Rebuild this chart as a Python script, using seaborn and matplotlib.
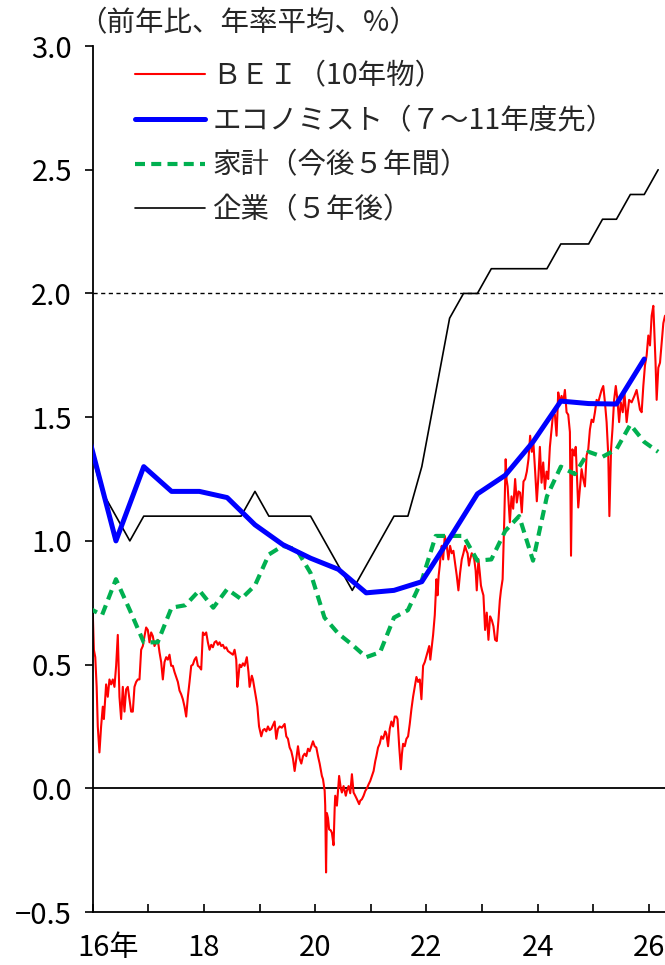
import matplotlib
matplotlib.use("Agg")
import matplotlib.pyplot as plt
import numpy as np
import pandas as pd
import seaborn as sns
from matplotlib.transforms import ScaledTranslation

# ---------------------------------------------------------------- data
# Survey months (quarterly: Mar/Jun/Sep/Dec, from Dec-2015 to Mar-2026)
quarter_months = pd.period_range("2015-12", "2026-03", freq="3M")
# Semi-annual economist survey months (Jun/Dec, from Dec-2015 to Dec-2025)
semi_months = pd.period_range("2015-12", "2025-12", freq="6M")

# 企業（５年後） — quarterly
firm_vals = [1.4,
             1.2, 1.1, 1.0, 1.1,
             1.1, 1.1, 1.1, 1.1,
             1.1, 1.1, 1.1, 1.2,
             1.1, 1.1, 1.1, 1.1,
             1.0, 0.9, 0.8, 0.9,
             1.0, 1.1, 1.1, 1.3,
             1.6, 1.9, 2.0, 2.0,
             2.1, 2.1, 2.1, 2.1,
             2.1, 2.2, 2.2, 2.2,
             2.3, 2.3, 2.4, 2.4,
             2.5]

# 家計（今後５年間） — quarterly
household_vals = [0.73,
                  0.70, 0.845, 0.72, 0.59,
                  0.59, 0.73, 0.74, 0.80,
                  0.73, 0.805, 0.765, 0.82,
                  0.945, 0.98, 0.965, 0.87,
                  0.69, 0.625, 0.58, 0.53,
                  0.55, 0.69, 0.72, 0.84,
                  1.02, 1.02, 1.02, 0.92,
                  0.925, 1.04, 1.10, 0.92,
                  1.18, 1.30, 1.27, 1.36,
                  1.34, 1.37, 1.47, 1.40,
                  1.36]

# エコノミスト（７～11年度先） — semi-annual
economist_vals = [1.43,
                  1.00, 1.30, 1.20, 1.20, 1.175, 1.065, 0.985, 0.93,
                  0.885, 0.79, 0.80, 0.835, 1.01, 1.19, 1.265, 1.40,
                  1.565, 1.555, 1.553, 1.735]

# ＢＥＩ（10年物） — market series (decimal year, %)
bei_t = [2016.00, 2016.02, 2016.045, 2016.07, 2016.09, 2016.12, 2016.15, 2016.18, 2016.20, 2016.24,
         2016.27, 2016.30, 2016.33, 2016.36, 2016.39, 2016.42, 2016.45, 2016.48, 2016.51, 2016.54,
         2016.57, 2016.60, 2016.63, 2016.66, 2016.69, 2016.72, 2016.75, 2016.78, 2016.81, 2016.84,
         2016.87, 2016.90, 2016.93, 2016.96, 2016.99,
         2017.02, 2017.05, 2017.08, 2017.11, 2017.14, 2017.17, 2017.20, 2017.23, 2017.26, 2017.29,
         2017.32, 2017.35, 2017.38, 2017.41, 2017.44, 2017.47, 2017.50, 2017.53, 2017.56, 2017.59,
         2017.62, 2017.65, 2017.68, 2017.71, 2017.74, 2017.77, 2017.80, 2017.83, 2017.86, 2017.89,
         2017.92, 2017.95, 2017.98,
         2018.01, 2018.04, 2018.07, 2018.10, 2018.13, 2018.16, 2018.19, 2018.22, 2018.25, 2018.28,
         2018.31, 2018.34, 2018.37, 2018.40, 2018.43, 2018.46, 2018.49, 2018.52, 2018.55, 2018.58,
         2018.60, 2018.62, 2018.64, 2018.67, 2018.70, 2018.73, 2018.77, 2018.80, 2018.82, 2018.86,
         2018.88, 2018.91, 2018.94, 2018.96, 2018.99,
         2019.03, 2019.06, 2019.09, 2019.12, 2019.15, 2019.18, 2019.21, 2019.24, 2019.27, 2019.30,
         2019.33, 2019.36, 2019.40, 2019.45, 2019.48, 2019.51, 2019.54, 2019.57, 2019.60, 2019.63,
         2019.66, 2019.69, 2019.72, 2019.75, 2019.78, 2019.81, 2019.84, 2019.87, 2019.90, 2019.93,
         2019.96, 2019.99,
         2020.02, 2020.05, 2020.08, 2020.12, 2020.14, 2020.17, 2020.18, 2020.195, 2020.21, 2020.23,
         2020.25, 2020.28, 2020.30, 2020.33, 2020.35, 2020.36, 2020.39, 2020.41, 2020.43, 2020.46,
         2020.48, 2020.51, 2020.55, 2020.57, 2020.60, 2020.63, 2020.66, 2020.69, 2020.72, 2020.75,
         2020.79, 2020.81, 2020.84, 2020.87, 2020.90, 2020.93, 2020.96, 2020.99,
         2021.02, 2021.05, 2021.08, 2021.10, 2021.13, 2021.16, 2021.19, 2021.22, 2021.26, 2021.28,
         2021.31, 2021.34, 2021.37, 2021.40, 2021.43, 2021.46, 2021.48, 2021.51, 2021.54, 2021.56,
         2021.58, 2021.61, 2021.64, 2021.67, 2021.70, 2021.73, 2021.76, 2021.79, 2021.82, 2021.85,
         2021.88, 2021.91, 2021.94, 2021.97,
         2022.00, 2022.03, 2022.05, 2022.07, 2022.09, 2022.12, 2022.15, 2022.18, 2022.20, 2022.22,
         2022.24, 2022.26, 2022.275, 2022.30, 2022.33, 2022.365, 2022.395, 2022.425, 2022.455, 2022.485,
         2022.515, 2022.545, 2022.575, 2022.605, 2022.635, 2022.665, 2022.695, 2022.72, 2022.74, 2022.765,
         2022.785, 2022.815, 2022.84, 2022.86, 2022.885, 2022.905, 2022.935, 2022.96, 2022.98,
         2023.00, 2023.025, 2023.055, 2023.085, 2023.115, 2023.145, 2023.175, 2023.205, 2023.235, 2023.265,
         2023.295, 2023.32, 2023.34, 2023.37, 2023.40, 2023.425, 2023.44, 2023.46, 2023.48, 2023.50,
         2023.53, 2023.56, 2023.595, 2023.625, 2023.655, 2023.685, 2023.715, 2023.745, 2023.775, 2023.805,
         2023.835, 2023.865, 2023.895, 2023.925, 2023.955, 2023.985,
         2024.015, 2024.04, 2024.07, 2024.10, 2024.13, 2024.16, 2024.19, 2024.22, 2024.25, 2024.28,
         2024.31, 2024.34, 2024.37, 2024.40, 2024.43, 2024.46, 2024.49, 2024.52, 2024.55, 2024.58,
         2024.60, 2024.625, 2024.66, 2024.685, 2024.715, 2024.73, 2024.76, 2024.79, 2024.82, 2024.85,
         2024.88, 2024.91, 2024.94, 2024.97,
         2025.00, 2025.03, 2025.06, 2025.09, 2025.12, 2025.15, 2025.18, 2025.21, 2025.24, 2025.27,
         2025.29, 2025.32, 2025.345, 2025.375, 2025.405, 2025.435, 2025.465, 2025.495, 2025.53, 2025.56,
         2025.60, 2025.645, 2025.69, 2025.74, 2025.78, 2025.81, 2025.84, 2025.87, 2025.90, 2025.93,
         2025.96, 2025.99,
         2026.02, 2026.05, 2026.08, 2026.10, 2026.12, 2026.14, 2026.17, 2026.20, 2026.23, 2026.26,
         2026.29]
bei_v = [0.71, 0.56, 0.53, 0.41, 0.25, 0.145, 0.25, 0.33, 0.28, 0.42,
         0.37, 0.44, 0.42, 0.44, 0.41, 0.495, 0.62, 0.37, 0.28, 0.41,
         0.31, 0.40, 0.41, 0.36, 0.31, 0.31, 0.41, 0.43, 0.44, 0.44,
         0.56, 0.575, 0.615, 0.65, 0.64,
         0.59, 0.63, 0.615, 0.575, 0.59, 0.60, 0.55, 0.51, 0.44, 0.51,
         0.53, 0.52, 0.54, 0.495, 0.495, 0.47, 0.45, 0.43, 0.395, 0.38,
         0.36, 0.33, 0.29, 0.37, 0.43, 0.495, 0.50, 0.52, 0.53, 0.495,
         0.49, 0.48, 0.63,
         0.62, 0.63, 0.59, 0.56, 0.58, 0.57, 0.59, 0.595, 0.58, 0.59,
         0.575, 0.58, 0.565, 0.57, 0.555, 0.55, 0.545, 0.54, 0.56, 0.52,
         0.41, 0.45, 0.50, 0.49, 0.505, 0.495, 0.53, 0.47, 0.41, 0.455,
         0.44, 0.40, 0.36, 0.33, 0.25,
         0.21, 0.235, 0.24, 0.23, 0.25, 0.235, 0.24, 0.255, 0.27, 0.20,
         0.24, 0.25, 0.245, 0.26, 0.21, 0.20, 0.165, 0.15, 0.12, 0.07,
         0.12, 0.17, 0.12, 0.10, 0.13, 0.14, 0.13, 0.16, 0.15, 0.17,
         0.19, 0.17,
         0.165, 0.13, 0.10, 0.05, 0.037, -0.01, -0.07, -0.34, -0.10, -0.12,
         -0.166, -0.17, -0.18, -0.23, -0.08, -0.03, -0.07, -0.01, 0.05, 0.0,
         -0.017, 0.009, -0.03, -0.01, 0.009, -0.02, 0.057, -0.017, -0.03, -0.044,
         -0.064, -0.05, -0.044, -0.03, -0.011, 0.0, 0.016, 0.03,
         0.05, 0.07, 0.11, 0.13, 0.165, 0.18, 0.21, 0.20, 0.23, 0.22,
         0.17, 0.24, 0.27, 0.25, 0.29, 0.29, 0.28, 0.17, 0.077, 0.14,
         0.18, 0.17, 0.20, 0.21, 0.26, 0.32, 0.37, 0.41, 0.45, 0.43,
         0.44, 0.36, 0.495, 0.51,
         0.535, 0.56, 0.575, 0.52, 0.56, 0.62, 0.70, 0.845, 0.78, 0.86,
         0.90, 0.95, 0.98, 0.925, 1.02, 0.98, 0.925, 0.98, 0.95, 0.96,
         0.91, 0.86, 0.80, 0.87, 0.925, 0.95, 0.98, 0.96, 0.95, 0.90,
         0.925, 0.95, 0.94, 0.925, 0.88, 0.80, 0.925, 0.87, 0.82,
         0.80, 0.78, 0.64, 0.71, 0.60, 0.695, 0.68, 0.655, 0.60, 0.595,
         0.68, 0.76, 0.80, 0.845, 1.09, 1.33, 1.25, 1.22, 1.15, 1.075,
         1.18, 1.13, 1.25, 1.155, 1.20, 1.195, 1.115, 1.24, 1.25, 1.28,
         1.33, 1.425, 1.36, 1.39, 1.28, 1.16,
         1.265, 1.38, 1.235, 1.317, 1.21, 1.28, 1.25, 1.38, 1.45, 1.52,
         1.51, 1.425, 1.60, 1.56, 1.586, 1.56, 1.61, 1.52, 1.51, 1.44,
         0.94, 1.37, 1.345, 1.38, 1.21, 1.135, 1.21, 1.29, 1.25, 1.22,
         1.345, 1.37, 1.45, 1.49,
         1.48, 1.52, 1.57, 1.56, 1.586, 1.61, 1.626, 1.56, 1.48, 1.345,
         1.10, 1.37, 1.45, 1.57, 1.626, 1.57, 1.48, 1.56, 1.52, 1.60,
         1.48, 1.57, 1.56, 1.586, 1.61, 1.57, 1.53, 1.52, 1.626, 1.71,
         1.75, 1.83,
         1.79, 1.91, 1.95, 1.84, 1.72, 1.57, 1.70, 1.72, 1.80, 1.88,
         1.91]

series_labels = ["ＢＥＩ（10年物）", "エコノミスト（７～11年度先）",
                 "家計（今後５年間）", "企業（５年後）"]
y_ticks = [-0.5, 0.0, 0.5, 1.0, 1.5, 2.0, 2.5, 3.0]
y_tick_labels = ["\u22120.5", "0.0", "0.5", "1.0", "1.5", "2.0", "2.5", "3.0"]
x_ticks = list(range(2016, 2027))
x_tick_labels = ["16年", "", "18", "", "20", "", "22", "", "24", "", "26"]
unit_label = "（前年比、年率平均、%）"


def decimal_year(periods):
    return periods.year + (periods.month - 1) / 12.0


quarter_t = decimal_year(quarter_months)
semi_t = decimal_year(semi_months)

bei_df = pd.DataFrame({"t": bei_t, "v": bei_v})
firm_df = pd.DataFrame({"t": quarter_t, "v": firm_vals})
house_df = pd.DataFrame({"t": quarter_t, "v": household_vals})
econ_df = pd.DataFrame({"t": semi_t, "v": economist_vals})

# ---------------------------------------------------------------- style
sns.set_theme(style="white")
plt.rcParams["font.family"] = ["Noto Sans CJK JP", "DejaVu Sans"]

fig = plt.figure(figsize=(6.65, 9.65), dpi=100)
ax = fig.add_axes([0.1395, 0.0549, 0.8605, 0.8974])

ax.axhline(0.0, color="black", lw=1.3, zorder=1)
ax.axhline(2.0, color="black", lw=1.0, linestyle=(0, (3.0, 2.5)), zorder=1)

sns.lineplot(data=bei_df, x="t", y="v", ax=ax, color="#FF0000", lw=1.5,
             estimator=None, sort=False, label=series_labels[0], zorder=2)
sns.lineplot(data=econ_df, x="t", y="v", ax=ax, color="#0000FF", lw=3.6,
             estimator=None, sort=False, label=series_labels[1], zorder=5)
sns.lineplot(data=house_df, x="t", y="v", ax=ax, color="#00B050", lw=3.0,
             estimator=None, sort=False, label=series_labels[2], zorder=4,
             linestyle=(0, (2.4, 1.5)))
sns.lineplot(data=firm_df, x="t", y="v", ax=ax, color="black", lw=1.2,
             estimator=None, sort=False, label=series_labels[3], zorder=3)

ax.set_xlim(2016.0, 2026.29)
ax.set_ylim(-0.5, 3.0)
ax.set_xlabel("")
ax.set_ylabel("")

for side in ("top", "right"):
    ax.spines[side].set_visible(False)
for side in ("left", "bottom"):
    ax.spines[side].set_color("black")
    ax.spines[side].set_linewidth(1.3)

ax.set_yticks(y_ticks)
ax.set_yticklabels(y_tick_labels, fontsize=21)
ax.set_xticks(x_ticks)
ax.set_xticklabels(x_tick_labels, fontsize=21)
ax.tick_params(axis="y", direction="out", length=6, width=1.2, pad=9,
               colors="black", left=True)
ax.tick_params(axis="x", direction="in", length=6, width=1.2, pad=15,
               colors="black", bottom=True)

# keep the year figure of the first label centred on its tick
first = ax.get_xticklabels()[0]
first.set_horizontalalignment("left")
first.set_transform(first.get_transform() +
                    ScaledTranslation(-15 / 100, 0, fig.dpi_scale_trans))

leg = ax.legend(loc="upper left", bbox_to_anchor=(0.203, 0.9368),
                bbox_transform=fig.transFigure, frameon=False,
                fontsize=20.5, handlelength=2.46, handletextpad=0.25,
                labelspacing=0.52, borderpad=0, borderaxespad=0)

fig.text(0.117, 0.976, unit_label, fontsize=20.5, ha="left", va="center")

fig.savefig("out.png", dpi=100)
